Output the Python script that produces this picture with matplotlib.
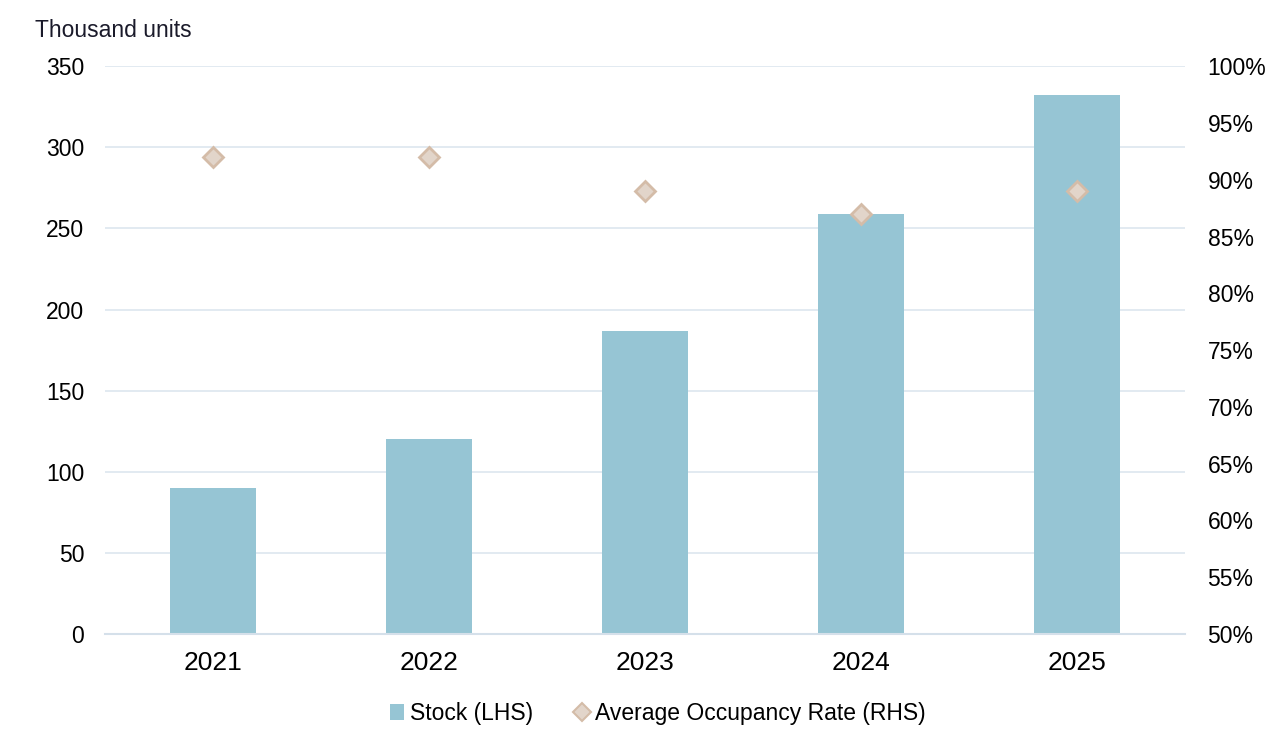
import matplotlib.pyplot as plt
from matplotlib.ticker import FuncFormatter
from matplotlib.lines import Line2D
from matplotlib.patches import Patch

years = ["2021", "2022", "2023", "2024", "2025"]
stock = [90, 120, 187, 259, 332]          # thousand units (LHS)
occupancy = [92, 92, 89, 87, 89]          # % (RHS)

plt.rcParams['font.family'] = ['Liberation Sans', 'DejaVu Sans']

bar_col = "#96C5D4"
dia_face = "#E2D5CA"
dia_edge = "#D4BCA8"
grid_col = "#DDE6EF"

fig = plt.figure(figsize=(12.8, 7.44), dpi=100)
ax1 = fig.add_axes([0.082, 0.148, 0.844, 0.763])
x = range(len(years))

ax1.bar(x, stock, width=0.4, color=bar_col, zorder=2)
ax1.set_xlim(-0.5, 4.5)
ax1.set_ylim(0, 350)
ax1.set_yticks(range(0, 351, 50))
ax1.set_xticks(list(x))
ax1.set_xticklabels(years, fontsize=19)
ax1.tick_params(axis='y', labelsize=16.5, length=0, pad=15)
ax1.tick_params(axis='x', length=0, pad=12)
ax1.grid(axis='y', color=grid_col, linewidth=1.2, zorder=0)
for s in ["top", "right", "left"]:
    ax1.spines[s].set_visible(False)
ax1.spines["bottom"].set_color("#D5E0EA")
ax1.spines["bottom"].set_linewidth(1.5)
ax1.set_axisbelow(True)

ax2 = ax1.twinx()
ax2.plot(list(x), occupancy, linestyle='none', marker='D', markersize=10.5,
         markerfacecolor=dia_face, markeredgecolor=dia_edge, markeredgewidth=2, zorder=3)
ax2.set_ylim(50, 100)
ax2.set_yticks(range(50, 101, 5))
ax2.yaxis.set_major_formatter(FuncFormatter(lambda v, p: "{:.0f}%".format(v)))
ax2.tick_params(axis='y', labelsize=16.5, length=0, pad=16)
for s in ["top", "right", "left", "bottom"]:
    ax2.spines[s].set_visible(False)

fig.text(0.027, 0.950, "Thousand units", fontsize=16.5, color="#1a1a2a", va='baseline')

handles = [Patch(facecolor=bar_col, edgecolor='none'),
           Line2D([], [], linestyle='none', marker='D', markersize=9,
                  markerfacecolor=dia_face, markeredgecolor=dia_edge, markeredgewidth=1.5)]
fig.legend(handles, ["Stock (LHS)", "Average Occupancy Rate (RHS)"],
           loc='center', bbox_to_anchor=(0.514, 0.041), ncol=2, frameon=False,
           fontsize=16.5, handlelength=0.6, handletextpad=0.3, columnspacing=1.8)

fig.savefig("out.png", dpi=100)
